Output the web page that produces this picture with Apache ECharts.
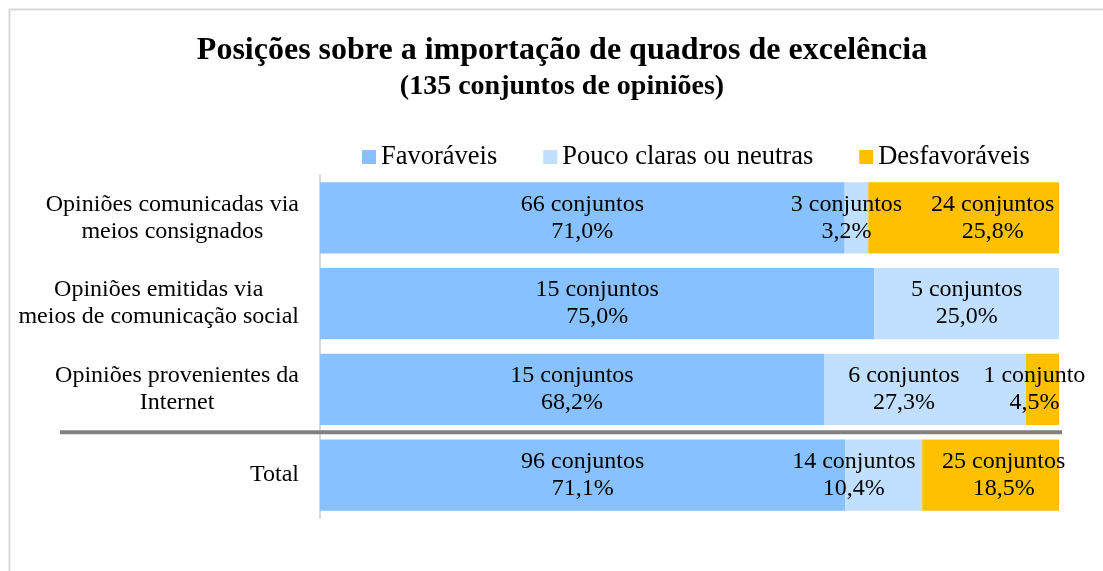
<!DOCTYPE html>
<html>
<head>
<meta charset="utf-8">
<script src="https://cdn.jsdelivr.net/npm/echarts@6/dist/echarts.min.js"></script>
<style>
  html, body { margin: 0; padding: 0; background: #fff; }
  #chart { width: 1103px; height: 571px; }
</style>
</head>
<body>
<div id="chart"></div>
<script>
// dados do gráfico
var categorias = [
    'Opiniões comunicadas via\nmeios consignados',
    'Opiniões emitidas via\nmeios de comunicação social',
    'Opiniões provenientes da\nInternet',
    'Total'
];
var series_nomes = ['Favoráveis', 'Pouco claras ou neutras', 'Desfavoráveis'];
var pct_favoraveis   = [71.0, 75.0, 68.2, 71.1];
var pct_neutras      = [3.2, 25.0, 27.3, 10.4];
var pct_desfavoraveis = [25.8, 0, 4.5, 18.5];
var n_favoraveis   = [66, 15, 15, 96];
var n_neutras      = [3, 5, 6, 14];
var n_desfavoraveis = [24, 0, 1, 25];

// deslocamentos manuais dos rótulos (px)
var desloc_rotulos = [
    [0, 0, 0, 0],
    [-10, 0, -21, -30],
    [29, 0, -8, 13]
];
var cores = ['#87C1FF', '#C1DFFF', '#FFC000'];
var fonte = '"Liberation Serif", "Times New Roman", serif';

var chart = echarts.init(document.getElementById('chart'));

function rotulo(contagens) {
    return function (p) {
        var n = contagens[p.dataIndex];
        if (!n) return '';
        return n + (n === 1 ? ' conjunto' : ' conjuntos') + '\n' +
            p.value.toFixed(1).replace('.', ',') + '%';
    };
}

function serie(i, valores, contagens) {
    return {
        name: series_nomes[i],
        type: 'bar',
        stack: 'total',
        barCategoryGap: '17%',
        itemStyle: { color: cores[i] },
        data: valores.map(function (v, k) {
            return {
                value: v,
                label: { offset: [desloc_rotulos[i][k], 0] }
            };
        }),
        label: {
            show: true,
            position: 'inside',
            color: '#000',
            fontFamily: fonte,
            fontSize: 24,
            lineHeight: 27,
            formatter: rotulo(contagens)
        }
    };
}

var moldura = {
    type: 'rect', silent: true,
    shape: { x: 9.5, y: 9.5, width: 1200, height: 700 },
    style: { fill: 'none', stroke: '#D9D9D9', lineWidth: 2 }
};

var option = {
    animation: false,
    title: [
        {
            text: 'Posições sobre a importação de quadros de excelência',
            left: 562, top: 34, textAlign: 'center', padding: 0,
            textStyle: { fontFamily: fonte, fontSize: 32, fontWeight: 'bold', color: '#000', lineHeight: 34 }
        },
        {
            text: '(135 conjuntos de opiniões)',
            left: 562, top: 72, textAlign: 'center', padding: 0,
            textStyle: { fontFamily: fonte, fontSize: 28, fontWeight: 'bold', color: '#000', lineHeight: 30 }
        }
    ],
    legend: {
        data: series_nomes,
        left: 362, top: 143, padding: 0,
        itemWidth: 14, itemHeight: 14, itemGap: 46,
        icon: 'rect',
        textStyle: { fontFamily: fonte, fontSize: 26.5, color: '#000', lineHeight: 28 }
    },
    grid: { left: 320, right: 44, top: 175, bottom: 53 },
    xAxis: { type: 'value', min: 0, max: 100, show: false },
    yAxis: {
        type: 'category',
        inverse: true,
        data: categorias,
        axisLine: { show: true, lineStyle: { color: '#D9D9D9', width: 2 } },
        axisTick: { show: false },
        axisLabel: {
            margin: 21,
            align: 'right',
            formatter: function (v) {
                return v.split('\n').map(function (l) { return '{c|' + l + '}'; }).join('\n');
            },
            rich: {
                c: { align: 'center', fontFamily: fonte, fontSize: 24, lineHeight: 27, color: '#000' }
            }
        }
    },
    graphic: [moldura],
    series: [
        serie(0, pct_favoraveis, n_favoraveis),
        serie(1, pct_neutras, n_neutras),
        serie(2, pct_desfavoraveis, n_desfavoraveis)
    ]
};
chart.setOption(option);

// linha separadora antes do Total
var y1 = chart.convertToPixel({ yAxisIndex: 0 }, categorias[2]);
var y2 = chart.convertToPixel({ yAxisIndex: 0 }, categorias[3]);
var xFim = chart.convertToPixel({ xAxisIndex: 0 }, 100) + 3;
chart.setOption({
    graphic: [
        moldura,
        {
            type: 'line', silent: true, z: 10,
            shape: { x1: 60, y1: (y1 + y2) / 2, x2: xFim, y2: (y1 + y2) / 2 },
            style: { stroke: '#808080', lineWidth: 4 }
        }
    ]
});
</script>
</body>
</html>
